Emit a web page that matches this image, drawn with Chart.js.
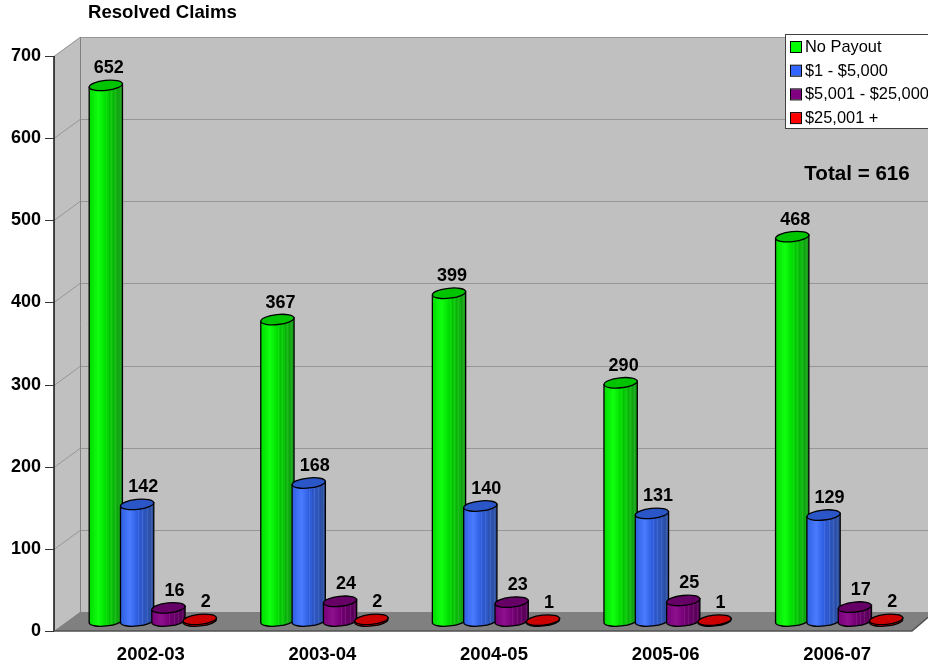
<!DOCTYPE html>
<html>
<head>
<meta charset="utf-8">
<title>Resolved Claims</title>
<script src="https://cdn.jsdelivr.net/npm/chart.js@4/dist/chart.umd.min.js"></script>
<style>
  html, body { margin: 0; padding: 0; background: #fff; overflow: hidden; }
  #wrap { width: 928px; height: 663px; }
</style>
</head>
<body>
<div id="wrap"><canvas id="myChart"></canvas></div>
<script>
var categories = ["2002-03", "2003-04", "2004-05", "2005-06", "2006-07"];
var seriesNames = ["No Payout", "$1 - $5,000", "$5,001 - $25,000", "$25,001 +"];
var noPayout = [652, 367, 399, 290, 468];
var upTo5000 = [142, 168, 140, 131, 129];
var upTo25000 = [16, 24, 23, 25, 17];
var over25000 = [2, 2, 1, 1, 2];
var tickValues = [0, 100, 200, 300, 400, 500, 600, 700];

// light, mid, dark side colours and the darker lid
var shades = [
  { swatch: "#00FF00", light: "#10FF10", mid: "#00DC00", dark: "#189A18", lid: "#00C400" },
  { swatch: "#3366FF", light: "#4A7BFF", mid: "#2F5FE0", dark: "#2D4F9C", lid: "#2A56C8" },
  { swatch: "#800080", light: "#8E108E", mid: "#780078", dark: "#560056", lid: "#660066" },
  { swatch: "#FF0000", light: "#FF0000", mid: "#E00000", dark: "#A00000", lid: "#CC0000" }
];

var FONT = '"Liberation Sans", Arial, sans-serif';
var depthX = 26, depthY = 19;   // wall offset from the front axis
var barShiftX = 13, barShiftY = 10; // bars stand in the middle of the floor
var tilt = -6 * Math.PI / 180;

var room = {
  id: "room",
  beforeDatasetsDraw: function (chart) {
    var ctx = chart.ctx, y = chart.scales.y, a = chart.chartArea;
    var x0 = a.left, x1 = a.right, W = chart.width;
    var yTop = y.getPixelForValue(700), yBot = y.getPixelForValue(0);
    var yEdge = yBot - (W - x1) * 0.85;
    ctx.save();
    // side and back wall
    ctx.fillStyle = "#C0C0C0";
    ctx.beginPath();
    ctx.moveTo(x0, yTop); ctx.lineTo(x0 + depthX, yTop - depthY); ctx.lineTo(W, yTop - depthY);
    ctx.lineTo(W, yBot - depthY); ctx.lineTo(x0 + depthX, yBot - depthY); ctx.lineTo(x0, yBot);
    ctx.closePath(); ctx.fill();
    // grid lines on both walls
    ctx.strokeStyle = "#969696"; ctx.lineWidth = 1;
    tickValues.forEach(function (v) {
      var py = Math.round(y.getPixelForValue(v)) + 0.5;
      ctx.beginPath();
      ctx.moveTo(x0, py); ctx.lineTo(x0 + depthX, py - depthY); ctx.lineTo(W, py - depthY);
      ctx.stroke();
    });
    ctx.strokeStyle = "#808080";
    ctx.beginPath();
    ctx.moveTo(x0 + depthX + 0.5, yTop - depthY); ctx.lineTo(x0 + depthX + 0.5, yBot - depthY);
    ctx.stroke();
    // floor
    ctx.fillStyle = "#808080";
    ctx.beginPath();
    ctx.moveTo(x0, yBot); ctx.lineTo(x0 + depthX, yBot - depthY); ctx.lineTo(W, yBot - depthY);
    ctx.lineTo(W, yEdge); ctx.lineTo(x1, yBot); ctx.closePath(); ctx.fill();
    // front axis
    ctx.strokeStyle = "#000"; ctx.lineWidth = 1.4;
    ctx.beginPath();
    ctx.moveTo(x0, yTop); ctx.lineTo(x0, yBot);
    ctx.stroke();
    ctx.strokeStyle = "#505050";
    ctx.beginPath();
    ctx.moveTo(x0, yBot); ctx.lineTo(x1, yBot); ctx.lineTo(W, yEdge);
    ctx.stroke();
    ctx.strokeStyle = "#333"; ctx.lineWidth = 1;
    tickValues.forEach(function (v) {
      var py = Math.round(y.getPixelForValue(v)) + 0.5;
      ctx.beginPath(); ctx.moveTo(x0 - 9, py); ctx.lineTo(x0, py); ctx.stroke();
    });
    ctx.restore();
  },
  afterDatasetsDraw: function (chart) {
    var ctx = chart.ctx;
    ctx.save();
    chart.data.datasets.forEach(function (ds, i) {
      chart.getDatasetMeta(i).data.forEach(function (bar, j) {
        var w = bar.width + 2, s = shades[i];
        var cx = bar.x + barShiftX, top = bar.y - barShiftY, base = bar.base - barShiftY;
        var left = cx - w / 2, ry = 5, dy = Math.sin(-tilt) * w / 2;
        var g = ctx.createLinearGradient(left, 0, left + w, 0);
        g.addColorStop(0, s.mid); g.addColorStop(0.28, s.light); g.addColorStop(0.5, s.mid); g.addColorStop(1, s.dark);

        function bodyPath() {
          ctx.beginPath();
          ctx.moveTo(left, top + dy);
          ctx.lineTo(left, base + dy);
          ctx.ellipse(cx, base, w / 2, ry, tilt, Math.PI, 0, true);
          ctx.lineTo(left + w, top - dy);
          ctx.closePath();
        }
        bodyPath();
        ctx.fillStyle = g; ctx.fill();
        // faint vertical facets on the shaded side
        ctx.save();
        ctx.clip();
        ctx.lineWidth = 1;
        for (var k = 0; k < 7; k++) {
          var fx = Math.round(left + w * 0.52 + k * 2.2) + 0.5;
          ctx.strokeStyle = k % 2 ? "rgba(0,0,0,0.06)" : "rgba(255,255,255,0.08)";
          ctx.beginPath(); ctx.moveTo(fx, top - 8); ctx.lineTo(fx, base + 8); ctx.stroke();
        }
        ctx.restore();
        bodyPath();
        ctx.strokeStyle = "#000"; ctx.lineWidth = 1.3; ctx.stroke();
        // lid
        ctx.fillStyle = s.lid;
        ctx.beginPath();
        ctx.ellipse(cx, top, w / 2, ry, tilt, 0, Math.PI * 2);
        ctx.fill(); ctx.stroke();
      });
    });
    // value labels go over every cylinder
    chart.data.datasets.forEach(function (ds, i) {
      chart.getDatasetMeta(i).data.forEach(function (bar, j) {
        ctx.fillStyle = "#000"; ctx.font = "bold 18px " + FONT;
        ctx.textAlign = "center"; ctx.textBaseline = "middle";
        ctx.fillText(String(ds.data[j]), bar.x + barShiftX + (i === 0 ? 3 : 6), bar.y - barShiftY - 17);
      });
    });
    ctx.restore();
  },
  afterDraw: function (chart) {
    var ctx = chart.ctx;
    ctx.save();
    // legend box, runs off the right edge like the original
    ctx.fillStyle = "#fff"; ctx.strokeStyle = "#404040"; ctx.lineWidth = 1;
    ctx.fillRect(786, 35, 150, 94);
    ctx.strokeRect(785.5, 34.5, 150, 94);
    ctx.font = "16.4px " + FONT; ctx.textAlign = "left"; ctx.textBaseline = "middle";
    seriesNames.forEach(function (name, i) {
      var ly = 47 + i * 23.7;
      ctx.fillStyle = shades[i].swatch; ctx.strokeStyle = "#000";
      ctx.fillRect(791, ly - 5, 10, 10);
      ctx.strokeRect(790.5, ly - 5.5, 11, 11);
      ctx.fillStyle = "#000";
      ctx.fillText(name, 805, ly + 0.5);
    });
    ctx.font = "bold 20.6px " + FONT; ctx.textAlign = "center";
    ctx.fillText("Total = 616", 857, 174);
    ctx.font = "bold 18.6px " + FONT; ctx.textAlign = "left";
    ctx.fillText("Resolved Claims", 88, 13);
    ctx.restore();
  }
};

new Chart("myChart", {
  type: "bar",
  data: {
    labels: categories,
    datasets: [
      { label: seriesNames[0], data: noPayout, backgroundColor: "transparent" },
      { label: seriesNames[1], data: upTo5000, backgroundColor: "transparent" },
      { label: seriesNames[2], data: upTo25000, backgroundColor: "transparent" },
      { label: seriesNames[3], data: over25000, backgroundColor: "transparent" }
    ]
  },
  options: {
    responsive: true,
    maintainAspectRatio: false,
    animation: false,
    layout: { padding: { top: 56, right: 16, bottom: 0, left: 0 } },
    datasets: { bar: { categoryPercentage: 0.73, barPercentage: 1 } },
    plugins: { legend: { display: false }, title: { display: false }, tooltip: { enabled: false } },
    scales: {
      x: {
        grid: { display: false },
        border: { display: false },
        afterFit: function (s) { s.height = 32; },
        ticks: { color: "#000", font: { family: FONT, size: 18.5, weight: "bold" }, maxRotation: 0, labelOffset: 11, padding: 5 }
      },
      y: {
        min: 0, max: 700,
        grid: { display: false },
        border: { display: false },
        afterFit: function (s) { s.width = 54; },
        afterBuildTicks: function (s) { s.ticks = tickValues.map(function (v) { return { value: v }; }); },
        ticks: { color: "#000", font: { family: FONT, size: 18, weight: "bold" }, padding: 5 }
      }
    }
  },
  plugins: [room]
});
</script>
</body>
</html>
